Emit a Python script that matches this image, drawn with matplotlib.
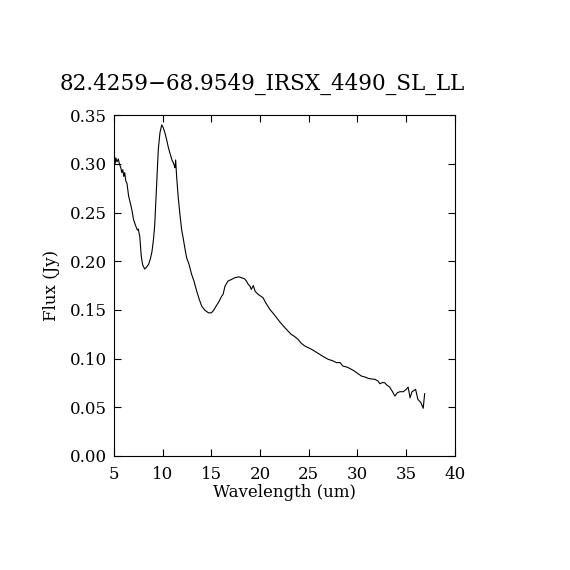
import matplotlib
matplotlib.use("Agg")
import matplotlib.pyplot as plt

# spectrum
wavelength = [5.0, 5.05, 5.1, 5.2, 5.3, 5.45, 5.55, 5.7, 5.8, 5.9, 6.0, 6.1, 6.2, 6.33,
              6.5, 6.67, 6.85, 7.0, 7.2, 7.4, 7.5, 7.65, 7.8, 7.95, 8.15, 8.35, 8.56,
              8.75, 8.9, 9.05, 9.18, 9.3, 9.41, 9.55, 9.72, 9.9, 10.06, 10.25, 10.4,
              10.6, 10.75, 10.95, 11.09, 11.2, 11.26, 11.33, 11.43, 11.6, 11.77, 11.95,
              12.1, 12.3, 12.46, 12.7, 12.97, 13.2, 13.5, 13.75, 14.0, 14.3, 14.7, 15.0,
              15.25, 15.5, 15.8, 16.05, 16.2, 16.4, 16.7, 17.0, 17.4, 17.8, 18.1, 18.4,
              18.6, 18.8, 18.96, 19.1, 19.3, 19.5, 19.8, 20.3, 20.6, 21.0, 21.3, 21.7,
              22.0, 22.4, 22.8, 23.2, 23.5, 23.9, 24.2, 24.6, 25.0, 25.3, 25.7, 26.1,
              26.5, 27.0, 27.4, 27.86, 28.2, 28.5, 29.0, 29.56, 30.0, 30.4, 30.8, 31.1,
              31.5, 31.8, 32.1, 32.3, 32.6, 32.8, 33.0, 33.3, 33.6, 33.84, 34.1, 34.35,
              34.7, 35.0, 35.2, 35.4, 35.6, 35.97, 36.2, 36.5, 36.75, 36.9]
flux = [0.295, 0.308, 0.300, 0.306, 0.302, 0.305, 0.300, 0.296, 0.291, 0.294, 0.287,
        0.291, 0.283, 0.280, 0.267, 0.260, 0.252, 0.243, 0.237, 0.232, 0.233, 0.225,
        0.205, 0.196, 0.192, 0.194, 0.197, 0.203, 0.210, 0.222, 0.237, 0.262, 0.287,
        0.315, 0.332, 0.340, 0.337, 0.331, 0.325, 0.316, 0.311, 0.304, 0.301, 0.298,
        0.296, 0.304, 0.287, 0.265, 0.248, 0.232, 0.224, 0.212, 0.2035, 0.197, 0.1865,
        0.180, 0.169, 0.161, 0.154, 0.150, 0.147, 0.147, 0.150, 0.154, 0.159, 0.164,
        0.166, 0.1745, 0.1796, 0.181, 0.183, 0.184, 0.183, 0.182, 0.1796, 0.176,
        0.1745, 0.171, 0.175, 0.169, 0.166, 0.1625, 0.157, 0.1506, 0.147, 0.142,
        0.138, 0.1334, 0.129, 0.1249, 0.123, 0.1198, 0.116, 0.1129, 0.111, 0.1095,
        0.107, 0.1044, 0.102, 0.0992, 0.098, 0.0958, 0.096, 0.0924, 0.091, 0.088,
        0.085, 0.0821, 0.081, 0.0797, 0.079, 0.0787, 0.077, 0.0742, 0.0755, 0.0752,
        0.073, 0.0708, 0.066, 0.0616, 0.065, 0.066, 0.066, 0.0684, 0.0708, 0.0598,
        0.066, 0.0684, 0.0582, 0.055, 0.049, 0.064]

title = "82.4259\u221268.9549_IRSX_4490_SL_LL"
x_ticks = [5, 10, 15, 20, 25, 30, 35, 40]
y_ticks = [0.00, 0.05, 0.10, 0.15, 0.20, 0.25, 0.30, 0.35]

plt.rcParams["font.family"] = ["DejaVu Serif"]

fig = plt.figure(figsize=(5.7, 5.7), dpi=100)
ax = fig.add_axes([0.2, 0.2, 0.598, 0.598])

ax.plot(wavelength, flux, color="black", lw=0.8)

ax.set_xlim(5, 40)
ax.set_ylim(0, 0.35)
ax.set_xticks(x_ticks)
ax.set_xticklabels([str(t) for t in x_ticks])
ax.set_yticks(y_ticks)
ax.set_yticklabels([f"{t:.2f}" for t in y_ticks])
ax.tick_params(direction="in", length=5, width=0.8, top=True, right=True,
               labelsize=12, pad=5)
ax.tick_params(axis="x", pad=7)
for s in ax.spines.values():
    s.set_linewidth(0.8)

ax.set_xlabel("Wavelength (um)", fontsize=12, labelpad=1)
ax.set_ylabel("Flux (Jy)", fontsize=12, labelpad=7)
# the title sits a little left of the axes centre in the original
ax.set_title(title, fontsize=15.5, pad=18, x=0.434)

fig.savefig("out.png", dpi=100)
